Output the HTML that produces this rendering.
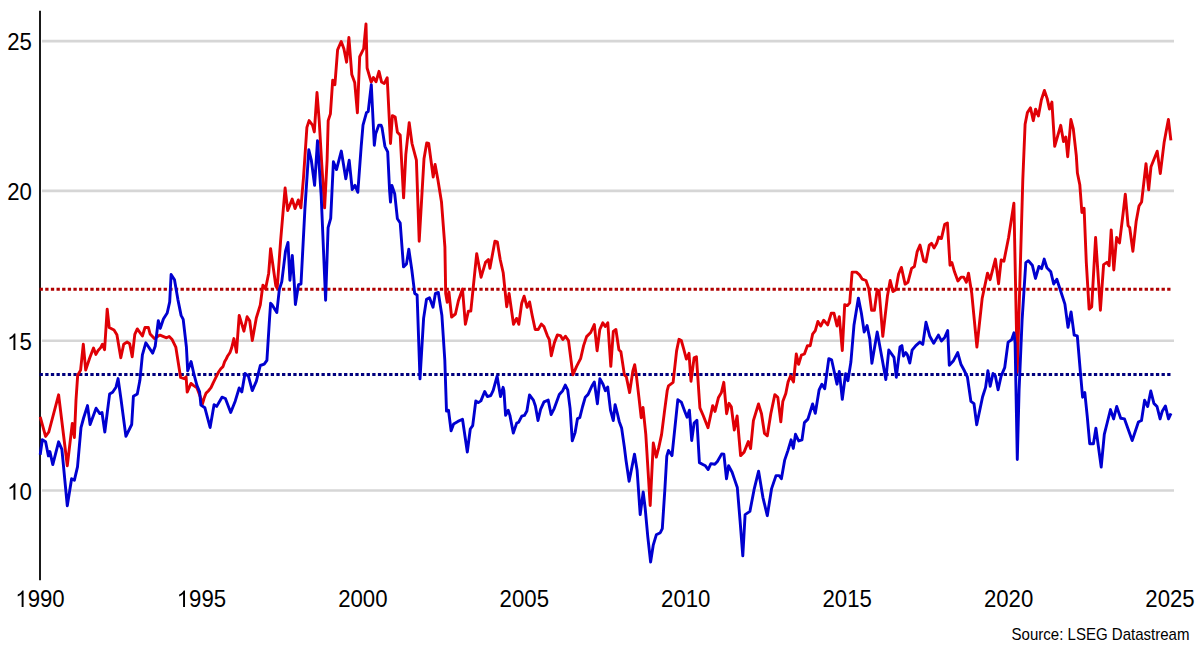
<!DOCTYPE html>
<html><head><meta charset="utf-8"><style>
html,body{margin:0;padding:0;background:#fff;}
body{width:1200px;height:645px;overflow:hidden;}
svg{display:block;font-family:"Liberation Sans",sans-serif;}
</style></head><body>
<svg width="1200" height="645" viewBox="0 0 1200 645">
<rect width="1200" height="645" fill="#fff"/>
<g stroke="#d6d6d6" stroke-width="2.6"><line x1="42" x2="1174" y1="490.5" y2="490.5" /><line x1="42" x2="1174" y1="340.7" y2="340.7" /><line x1="42" x2="1174" y1="190.9" y2="190.9" /><line x1="42" x2="1174" y1="41.1" y2="41.1" /></g>
<g font-size="23" fill="#000"><g transform="translate(31.80,499.80) scale(0.965,1)"><path transform="translate(-25.58,0) scale(0.011230,-0.011230)" d="M763,0 L583,0 L583,1147 C540,1106 483,1065 412,1023 C341,982 278,951 222,930 L222,1104 C322,1151 410,1208 486,1276 C562,1344 615,1409 646,1472 L763,1472 Z"/><text x="-12.79" y="0">0</text></g><g transform="translate(31.80,350.00) scale(0.965,1)"><path transform="translate(-25.58,0) scale(0.011230,-0.011230)" d="M763,0 L583,0 L583,1147 C540,1106 483,1065 412,1023 C341,982 278,951 222,930 L222,1104 C322,1151 410,1208 486,1276 C562,1344 615,1409 646,1472 L763,1472 Z"/><text x="-12.79" y="0">5</text></g><g transform="translate(31.80,200.20) scale(0.965,1)"><text x="-25.58" y="0">20</text></g><g transform="translate(31.80,50.40) scale(0.965,1)"><text x="-25.58" y="0">25</text></g><g transform="translate(40.00,607.00) scale(0.965,1)"><path transform="translate(-25.58,0) scale(0.011230,-0.011230)" d="M763,0 L583,0 L583,1147 C540,1106 483,1065 412,1023 C341,982 278,951 222,930 L222,1104 C322,1151 410,1208 486,1276 C562,1344 615,1409 646,1472 L763,1472 Z"/><text x="-12.79" y="0">990</text></g><g transform="translate(201.43,607.00) scale(0.965,1)"><path transform="translate(-25.58,0) scale(0.011230,-0.011230)" d="M763,0 L583,0 L583,1147 C540,1106 483,1065 412,1023 C341,982 278,951 222,930 L222,1104 C322,1151 410,1208 486,1276 C562,1344 615,1409 646,1472 L763,1472 Z"/><text x="-12.79" y="0">995</text></g><g transform="translate(362.86,607.00) scale(0.965,1)"><text x="-25.58" y="0">2000</text></g><g transform="translate(524.29,607.00) scale(0.965,1)"><text x="-25.58" y="0">2005</text></g><g transform="translate(685.72,607.00) scale(0.965,1)"><text x="-25.58" y="0">2010</text></g><g transform="translate(847.15,607.00) scale(0.965,1)"><text x="-25.58" y="0">2015</text></g><g transform="translate(1008.58,607.00) scale(0.965,1)"><text x="-25.58" y="0">2020</text></g><g transform="translate(1170.01,607.00) scale(0.965,1)"><text x="-25.58" y="0">2025</text></g></g>
<text transform="translate(1189.5,640.3) scale(0.94,1)" font-size="16" text-anchor="end" fill="#000">Source: LSEG Datastream</text>
<line x1="40" x2="40" y1="10.7" y2="580.3" stroke="#1a1a1a" stroke-width="2"/>
<line x1="39.6" x2="1170.7" y1="289.3" y2="289.3" stroke="#b00000" stroke-width="3.1" stroke-dasharray="3.3 2.338"/>
<line x1="39.6" x2="1170.7" y1="374.4" y2="374.4" stroke="#00007e" stroke-width="3" stroke-dasharray="3.3 2.338"/>
<path d="M40.2,416.9 L45.6,436.4 L48.8,432.0 L58.6,394.8 L67.3,465.7 L72.3,423.4 L74.4,437.5 L76.0,400.0 L77.7,375.2 L80.6,370.1 L83.3,344.2 L85.7,370.1 L89.6,358.2 L93.5,348.0 L95.9,354.4 L98.1,350.5 L100.7,347.6 L102.4,344.2 L104.6,349.7 L107.2,309.1 L109.2,327.5 L114.0,330.0 L116.9,334.7 L120.8,357.8 L123.7,344.2 L127.1,342.0 L129.7,343.7 L132.2,356.8 L134.8,334.3 L137.3,328.9 L142.4,336.0 L145.0,327.5 L148.4,327.5 L150.1,334.0 L154.4,338.6 L159.5,335.2 L160.0,335.2 L166.6,337.8 L169.2,336.5 L171.9,339.2 L175.8,347.1 L180.6,377.4 L184.3,378.7 L186.1,376.9 L187.2,392.1 L191.0,383.4 L193.7,385.6 L196.9,387.7 L200.2,396.4 L202.4,404.0 L204.0,398.6 L206.1,393.1 L208.3,391.0 L211.0,387.7 L213.2,382.8 L215.9,377.4 L218.6,372.0 L220.8,368.7 L223.0,366.6 L224.6,361.7 L226.2,359.0 L227.8,355.7 L230.0,352.5 L231.6,348.1 L233.9,338.6 L236.5,352.3 L239.2,315.4 L243.9,331.2 L247.1,316.7 L249.7,320.7 L252.3,340.5 L256.3,318.0 L260.3,304.9 L262.9,285.1 L265.5,289.0 L268.7,273.2 L270.6,248.7 L275.8,285.7 L277.2,288.3 L280.6,240.8 L285.1,188.0 L287.7,210.5 L292.2,199.1 L295.1,208.6 L298.3,199.9 L300.9,207.8 L303.5,177.5 L306.9,127.4 L309.1,120.6 L312.5,125.1 L314.3,131.9 L317.0,92.5 L319.2,120.6 L321.5,160.0 L324.6,207.8 L327.1,160.0 L328.2,120.6 L330.4,113.9 L332.7,80.2 L334.9,84.7 L337.6,49.8 L341.2,41.5 L343.9,48.7 L346.6,62.2 L348.9,37.5 L351.8,74.6 L354.7,82.4 L357.4,112.8 L359.7,56.6 L363.7,48.7 L366.0,24.0 L367.1,68.0 L371.2,82.1 L373.4,77.5 L376.0,81.8 L379.0,71.3 L381.6,82.1 L384.2,83.6 L387.2,77.7 L390.5,143.5 L392.4,115.6 L395.2,117.0 L397.4,132.3 L400.2,135.1 L403.6,197.9 L405.8,154.7 L409.2,122.6 L412.0,143.5 L416.4,160.2 L419.2,241.2 L424.0,158.8 L426.7,142.9 L428.7,143.5 L433.2,177.0 L435.1,164.4 L437.9,179.8 L441.5,202.1 L444.9,246.8 L445.7,293.4 L447.2,302.2 L448.9,291.9 L451.6,317.0 L455.4,314.0 L458.4,300.8 L462.5,289.0 L465.4,324.3 L468.4,311.1 L470.8,311.1 L476.7,253.6 L481.1,277.2 L485.5,262.4 L488.4,259.5 L489.9,268.3 L494.9,241.2 L497.3,241.8 L500.2,259.5 L503.2,272.7 L506.7,306.7 L509.1,293.4 L513.5,324.3 L516.5,318.4 L518.8,324.3 L521.7,303.3 L524.1,296.2 L527.1,307.3 L529.6,301.9 L532.2,315.4 L535.2,329.5 L538.2,329.5 L541.3,324.1 L543.9,326.5 L547.3,335.6 L549.3,339.6 L551.3,355.7 L554.4,342.6 L557.4,334.9 L560.4,335.6 L562.8,339.6 L565.5,336.2 L568.5,340.6 L572.9,374.9 L576.6,366.4 L580.6,358.7 L583.6,345.6 L586.6,336.6 L590.7,332.5 L594.3,324.5 L597.1,350.7 L599.8,329.5 L602.8,322.8 L605.2,326.5 L607.8,322.8 L610.8,366.4 L613.3,331.5 L615.9,329.5 L618.9,349.7 L620.9,351.7 L624.4,374.9 L626.3,376.7 L629.6,392.6 L632.8,371.2 L634.7,364.7 L636.5,376.7 L638.9,397.2 L641.2,417.7 L643.0,407.4 L645.8,434.4 L650.2,505.5 L653.3,443.0 L656.3,457.1 L658.8,447.4 L661.6,434.4 L664.4,412.1 L667.2,390.7 L668.5,385.8 L673.1,382.3 L676.6,350.9 L679.0,339.3 L681.3,340.5 L683.6,348.6 L686.4,359.1 L689.0,353.3 L691.0,381.2 L694.1,357.9 L696.4,356.7 L699.9,407.9 L703.4,416.0 L708.0,427.7 L712.7,405.6 L715.0,411.4 L718.5,397.4 L721.3,392.8 L723.8,382.3 L726.6,413.7 L729.0,403.3 L731.3,406.7 L734.3,430.0 L737.1,416.0 L740.6,455.6 L744.1,452.1 L748.3,441.6 L750.6,448.6 L753.4,420.7 L758.5,404.0 L761.5,413.7 L764.5,433.5 L767.3,435.8 L770.8,413.7 L774.8,394.7 L777.8,397.4 L780.8,421.9 L782.8,401.6 L785.8,393.5 L788.1,381.9 L790.5,376.0 L793.5,381.9 L796.3,354.0 L798.6,364.4 L801.4,355.1 L804.4,354.0 L807.4,345.8 L810.2,345.8 L812.6,334.2 L815.3,330.7 L817.9,321.4 L820.7,326.0 L823.7,320.2 L827.7,324.9 L831.2,313.3 L834.0,313.3 L837.0,326.0 L839.3,316.7 L842.3,350.5 L844.7,304.7 L847.4,305.6 L849.7,302.8 L852.1,272.1 L856.4,272.1 L859.5,274.9 L862.3,279.2 L866.0,280.5 L868.8,288.8 L871.6,310.2 L874.4,310.2 L877.2,289.8 L879.1,290.7 L882.8,336.3 L887.4,296.3 L890.2,280.5 L893.0,291.6 L895.8,289.8 L898.6,274.0 L901.4,267.4 L905.1,284.2 L907.9,282.3 L911.6,268.4 L914.4,266.5 L917.2,251.6 L920.0,245.1 L923.7,260.9 L926.0,261.9 L929.3,245.1 L931.5,243.3 L934.0,247.9 L936.7,243.3 L938.6,237.1 L941.4,238.6 L944.7,224.3 L947.4,223.0 L950.0,265.2 L951.9,262.6 L954.5,271.8 L957.9,281.0 L961.1,277.1 L963.7,277.1 L966.4,282.3 L968.5,273.1 L971.7,292.9 L976.9,347.0 L982.2,298.2 L987.5,273.1 L990.1,279.7 L995.4,259.1 L998.6,283.7 L1001.2,259.9 L1003.9,261.2 L1008.6,237.5 L1013.9,203.2 L1017.3,372.0 L1022.8,180.0 L1025.1,124.2 L1027.4,112.6 L1030.5,107.9 L1033.3,120.7 L1035.6,109.1 L1038.4,116.0 L1041.4,99.8 L1044.4,90.5 L1047.2,98.6 L1049.5,109.1 L1051.9,102.1 L1054.7,146.3 L1057.7,135.8 L1060.7,125.3 L1063.5,141.6 L1065.8,137.0 L1067.7,156.7 L1070.9,119.5 L1073.3,128.8 L1076.3,155.6 L1077.4,173.0 L1079.8,184.7 L1081.9,212.5 L1084.1,208.2 L1086.3,262.4 L1089.1,309.1 L1091.7,306.9 L1095.6,237.5 L1100.4,310.2 L1103.6,264.6 L1106.9,262.4 L1109.1,265.7 L1111.2,229.9 L1113.8,270.0 L1116.6,237.5 L1119.5,242.9 L1123.2,212.5 L1125.3,194.1 L1128.1,225.6 L1129.7,227.7 L1132.9,251.2 L1136.2,221.2 L1139.0,206.0 L1141.6,202.0 L1146.0,163.6 L1148.7,189.9 L1151.0,166.7 L1157.2,151.2 L1160.3,173.6 L1164.2,141.9 L1166.5,129.5 L1168.4,119.4 L1170.9,140.3" fill="none" stroke="#e00006" stroke-width="2.9" stroke-linejoin="round"/>
<path d="M40.2,454.8 L42.3,439.7 L45.6,441.8 L48.4,455.9 L49.9,451.6 L52.8,464.6 L58.6,441.8 L61.9,449.4 L67.3,505.8 L71.6,478.7 L74.4,480.2 L77.5,466.8 L81.0,427.7 L83.6,418.0 L87.5,405.6 L90.1,424.5 L96.1,408.2 L99.8,413.6 L102.0,412.5 L104.8,432.0 L109.6,394.1 L112.6,392.3 L116.0,387.2 L118.1,378.6 L121.1,400.0 L125.9,436.4 L131.7,424.5 L133.4,396.3 L137.3,394.0 L139.9,380.3 L142.4,354.8 L145.8,342.8 L152.7,353.1 L155.2,346.2 L158.3,320.7 L160.3,328.4 L163.4,319.0 L167.2,313.0 L169.7,301.9 L171.1,274.5 L174.5,279.8 L177.9,299.6 L181.1,315.4 L183.2,319.4 L186.4,347.0 L187.7,370.8 L191.1,361.6 L193.8,373.5 L196.9,385.3 L199.6,391.9 L200.9,405.1 L204.9,407.8 L210.1,427.5 L214.1,404.6 L216.7,406.4 L222.0,397.2 L225.4,398.5 L230.7,412.5 L235.2,401.2 L239.2,388.0 L241.8,391.9 L245.0,373.5 L248.4,376.1 L252.3,390.6 L256.3,381.4 L260.3,365.5 L264.2,364.2 L266.9,360.3 L269.5,319.4 L270.6,303.3 L271.9,304.5 L276.8,312.6 L279.3,289.6 L281.8,281.6 L285.5,251.2 L288.0,242.5 L289.9,280.3 L292.3,255.5 L294.2,282.2 L295.4,304.5 L298.5,284.7 L301.0,284.0 L304.9,209.2 L308.8,149.8 L311.3,160.0 L314.6,185.4 L317.5,140.6 L321.2,196.0 L325.6,300.2 L328.1,227.6 L330.7,218.4 L333.4,161.7 L336.5,169.6 L341.3,151.1 L345.8,178.8 L349.2,160.3 L352.2,189.5 L355.0,185.4 L357.8,192.3 L361.2,146.3 L363.0,125.1 L366.4,112.8 L368.2,111.6 L371.3,84.7 L374.3,145.3 L375.7,133.7 L378.8,125.1 L381.0,125.1 L382.1,128.1 L384.9,146.3 L387.7,151.9 L389.6,190.9 L390.5,202.1 L391.9,185.4 L394.7,193.7 L397.4,218.8 L400.2,223.0 L403.5,266.9 L406.5,263.9 L408.8,249.2 L411.8,269.8 L414.7,293.4 L417.1,294.9 L420.0,378.9 L423.6,318.4 L426.5,299.3 L429.5,297.8 L433.0,307.2 L435.4,293.4 L438.3,292.5 L441.9,315.5 L444.8,360.0 L446.5,411.1 L448.5,410.3 L451.1,430.7 L453.6,423.9 L457.9,421.4 L462.5,419.3 L467.3,452.0 L470.3,429.0 L472.7,425.6 L475.8,400.9 L478.3,402.6 L480.9,400.9 L484.7,391.5 L487.4,396.6 L490.8,395.5 L493.2,390.3 L497.1,376.2 L500.5,396.6 L503.1,387.3 L503.9,390.7 L505.6,415.4 L508.2,410.3 L509.9,415.4 L513.3,433.0 L516.7,423.1 L518.7,422.2 L521.8,416.2 L524.4,415.4 L526.9,411.1 L529.5,394.9 L533.4,400.1 L535.4,406.0 L538.0,420.5 L540.6,409.4 L544.0,401.8 L548.2,400.1 L551.1,414.5 L554.2,408.6 L559.3,394.4 L562.7,390.7 L565.3,385.1 L567.7,389.8 L570.1,408.4 L572.3,440.9 L575.1,432.6 L577.5,418.6 L579.8,417.7 L582.6,406.5 L585.3,397.2 L588.1,394.4 L591.9,386.0 L594.3,382.0 L597.4,403.7 L599.9,378.6 L603.0,384.2 L605.4,390.7 L607.7,387.0 L610.5,410.2 L613.3,420.5 L615.1,404.7 L617.3,413.0 L619.2,421.4 L621.6,427.9 L624.4,447.4 L626.0,460.2 L629.1,481.3 L634.5,454.1 L637.1,470.2 L640.2,514.6 L643.2,492.0 L645.2,508.5 L647.8,536.8 L650.6,562.0 L653.3,544.8 L656.3,534.8 L660.3,532.7 L662.3,528.7 L664.8,490.4 L666.8,456.1 L668.5,450.5 L672.0,455.6 L677.8,399.8 L681.3,402.1 L684.8,411.4 L687.1,417.2 L689.4,410.2 L691.7,440.5 L694.1,423.0 L696.9,420.2 L699.4,462.6 L703.3,464.7 L705.4,465.8 L708.2,469.5 L710.9,463.6 L714.8,464.3 L717.4,461.5 L721.7,453.9 L723.9,454.3 L726.5,478.8 L728.6,465.8 L732.1,472.3 L734.7,479.9 L737.3,487.5 L740.1,521.1 L742.8,555.9 L745.1,514.6 L749.9,511.4 L754.3,488.6 L758.6,471.2 L762.9,497.3 L767.3,515.7 L771.6,488.6 L776.0,475.6 L779.2,475.6 L781.4,478.8 L784.6,460.4 L787.9,450.6 L791.1,439.8 L793.3,448.4 L795.5,434.3 L798.7,440.9 L802.0,439.8 L804.4,422.6 L807.9,419.1 L812.6,404.0 L815.3,413.3 L819.1,390.0 L821.9,384.2 L824.7,388.8 L828.8,358.6 L831.6,359.8 L837.0,384.2 L839.3,371.4 L842.3,399.3 L845.6,373.7 L847.9,380.7 L850.9,362.1 L854.0,324.9 L858.4,298.1 L861.4,313.3 L864.2,332.0 L867.1,325.5 L869.8,339.1 L871.9,363.3 L877.2,331.9 L882.3,359.8 L885.8,379.5 L888.8,350.0 L894.0,357.4 L896.3,377.2 L900.0,347.0 L901.9,345.6 L903.5,356.0 L905.8,352.6 L907.4,354.9 L909.8,363.0 L912.1,350.2 L915.8,345.6 L919.8,342.1 L922.8,344.4 L926.0,322.3 L929.8,336.3 L933.7,343.3 L938.4,335.1 L941.4,340.9 L944.7,337.4 L947.7,330.5 L949.3,365.3 L953.5,360.7 L957.7,352.6 L960.9,364.2 L964.0,370.0 L967.4,377.0 L970.9,401.4 L974.0,403.7 L976.7,424.7 L982.6,396.7 L985.6,387.4 L987.9,370.7 L990.2,386.3 L993.0,373.5 L995.3,375.8 L998.1,389.8 L1001.2,375.8 L1004.7,367.7 L1008.1,342.1 L1011.6,339.8 L1014.0,332.8 L1015.1,343.3 L1017.3,459.5 L1019.1,389.8 L1022.1,320.0 L1025.8,262.6 L1028.4,260.7 L1032.3,265.2 L1035.5,278.4 L1038.9,266.5 L1041.6,268.6 L1044.2,259.1 L1046.9,267.8 L1050.8,271.8 L1053.7,284.0 L1056.8,279.3 L1060.9,291.7 L1064.9,304.1 L1068.0,327.4 L1071.1,311.9 L1074.2,335.2 L1077.3,335.8 L1080.4,372.4 L1082.6,397.2 L1084.8,392.6 L1087.2,415.8 L1089.7,443.7 L1093.4,443.7 L1095.9,428.2 L1101.2,467.0 L1104.3,434.4 L1107.4,422.0 L1110.5,409.6 L1113.6,418.9 L1116.7,406.5 L1120.7,418.3 L1124.5,418.9 L1132.2,440.6 L1138.4,422.0 L1141.5,420.5 L1144.6,400.3 L1147.7,406.5 L1150.8,391.0 L1153.9,403.4 L1157.0,406.5 L1160.1,418.9 L1162.3,411.2 L1165.4,405.9 L1168.5,418.9 L1171.0,413.3" fill="none" stroke="#0000d0" stroke-width="2.9" stroke-linejoin="round"/>
</svg>
</body></html>
